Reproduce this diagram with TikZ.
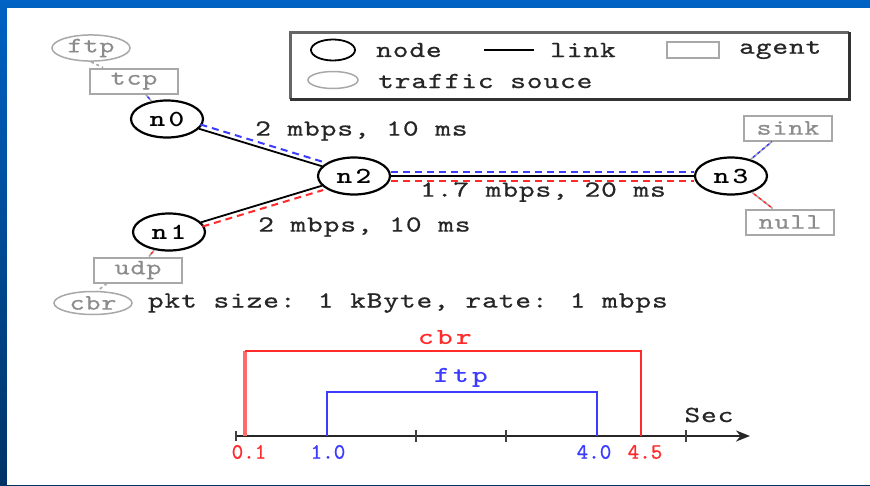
\documentclass[tikz,border=0pt]{standalone}
\usepackage{fontspec}
\newfontfamily\labelfont[FakeStretch=1.3,LetterSpace=4,FakeBold=0.7]{lmmono10-regular.otf}
\newfontfamily\nodefont[FakeStretch=1.3,LetterSpace=14]{lmmonolt10-bold.otf}
\newfontfamily\numfont[FakeBold=0.7]{lmmono10-regular.otf}
\usetikzlibrary{shapes.geometric,positioning,arrows.meta}
\definecolor{slideblue}{HTML}{0062C4}
\definecolor{slidedark}{HTML}{003366}
\definecolor{cbrred}{HTML}{FF2B2B}
\definecolor{ftpblue}{HTML}{3C3CFF}
\definecolor{agentgray}{HTML}{A8A8A8}
\definecolor{agenttext}{HTML}{8C8C8C}

\begin{document}
\begin{tikzpicture}[x=1pt,y=-1pt,
  nsnode/.style={ellipse,draw,line width=2.2pt,minimum width=72pt,minimum height=37pt,inner sep=0pt,font=\nodefont\fontsize{23}{23}\selectfont},
  agentbox/.style={draw=agentgray,line width=2pt,minimum width=88pt,minimum height=25pt,inner sep=0pt,text=agenttext,font=\labelfont\fontsize{22}{22}\selectfont},
  srcnode/.style={ellipse,draw=agentgray,line width=1.5pt,minimum width=78pt,minimum height=23pt,inner sep=0pt,text=agenttext,font=\labelfont\fontsize{22}{22}\selectfont},
  txt/.style={font=\labelfont\fontsize{23}{23}\selectfont,inner sep=0pt,anchor=west,text=black!85},
  numtxt/.style={font=\numfont\fontsize{22}{22}\selectfont,inner sep=0pt},
  link/.style={line width=1.8pt},
  ftpflow/.style={ftpblue,line width=2pt,dash pattern=on 7pt off 5pt},
  cbrflow/.style={cbrred,line width=2pt,dash pattern=on 7pt off 5pt},
  agentdot/.style={agentgray,line width=1.6pt,dash pattern=on 3pt off 3pt},
  ftpdot/.style={ftpblue,line width=1.6pt,dash pattern=on 3pt off 3pt,dash phase=3pt},
  cbrdot/.style={cbrred,line width=1.6pt,dash pattern=on 3pt off 3pt,dash phase=3pt},
  tick/.style={black!75,line width=2.2pt}]
  % slide background
  \shade[top color=slideblue,bottom color=slidedark] (0,0) rectangle (870,485);
  \fill[white] (7,8) rectangle (870,485);
  \useasboundingbox (0,0) rectangle (870,485);

  % legend
  \draw[black!60,line width=3pt] (290,99) -- (290,32) -- (849,32);
  \draw[black!80,line width=3pt] (849,32) -- (849,99) -- (290,99);
  \node[ellipse,draw,line width=1.8pt,minimum width=44pt,minimum height=21pt] (lgnode) at (333,50) {};
  \node[txt] (lgnodet) at (376,50) {node};
  \coordinate (lglinea) at (484,50);
  \coordinate (lglineb) at (534,50);
  \draw[link] (lglinea) -- (lglineb);
  \node[txt] (lglinkt) at (550,50) {link};
  \node[draw=agentgray,line width=2pt,minimum width=52pt,minimum height=16pt] (lgagent) at (693,50) {};
  \node[txt] (lgagentt) at (739,50) {agent};
  \node[ellipse,draw=agentgray,line width=1.5pt,minimum width=50pt,minimum height=17pt] (lgsrc) at (333,80) {};
  \node[txt] (lgsrct) at (378,81) {traffic souce};

  % topology
  \node[nsnode] (n0) at (167,119) {n0};
  \node[nsnode] (n1) at (169,232) {n1};
  \node[nsnode] (n2) at (354,176) {n2};
  \node[nsnode] (n3) at (731,176) {n3};

  \node[agentbox] (tcp) at (134,81) {tcp};
  \node[srcnode] (ftp) at (91,48) {ftp};
  \node[agentbox] (udp) at (138,270) {udp};
  \node[srcnode] (cbr) at (93,303) {cbr};
  \node[agentbox] (sink) at (788,128) {sink};
  \node[agentbox] (null) at (790,222) {null};

  \draw[link] (n0) -- (n2);
  \draw[link] (n1) -- (n2);
  \draw[link] (n2) -- (n3);
  \draw[ftpflow,transform canvas={shift={(1.3pt,4.3pt)}}] (n0) -- (n2);
  \draw[ftpflow,transform canvas={yshift=4.5pt}] (n2) -- (n3);
  \draw[cbrflow,transform canvas={shift={(1.3pt,-4.3pt)}}] (n1) -- (n2);
  \draw[cbrflow,transform canvas={yshift=-4.5pt}] (n2) -- (n3);

  \draw[agentdot] (ftp.south) -- ([xshift=14pt]tcp.north west);
  \draw[agentdot] (tcp) -- (n0);
  \draw[ftpdot] (tcp) -- (n0);
  \draw[agentdot] (n3) -- (sink);
  \draw[ftpdot] (n3) -- (sink);
  \draw[agentdot] (udp) -- (n1);
  \draw[cbrdot] (udp) -- (n1);
  \draw[agentdot] (n3) -- (null);
  \draw[cbrdot] (n3) -- (null);
  \draw[agentdot] ([xshift=14pt]udp.south west) -- (cbr.70);

  \node[txt] (l02) at (255,131) {2 mbps, 10 ms};
  \node[txt] (l12) at (258,227) {2 mbps, 10 ms};
  \node[txt] (l23) at (420,192) {1.7 mbps, 20 ms};
  \node[txt,right=15pt of cbr] (pkt) {pkt size: 1 kByte, rate: 1 mbps};

  % time line
  \coordinate (t0) at (236,436);
  \coordinate (tend) at (750,436);
  \draw[black!85,line width=2pt,-{Stealth[length=14pt,width=11pt]}] (t0) -- (tend);
  \draw[tick,line width=1.5pt] (236,431) -- (236,441);
  \foreach \i in {2,3,5}
    \draw[tick] (236+90*\i,430) -- (236+90*\i,442);
  \coordinate (cbrs) at (245,436);
  \coordinate (cbre) at (641,436);
  \coordinate (ftps) at (327,436);
  \coordinate (ftpe) at (597,436);
  \draw[cbrred!70,line width=4.5pt] (cbrs) -- ++(0,-85);
  \draw[cbrred,line width=2.2pt] (cbrs) ++(0,-85) -| (cbre);
  \draw[ftpblue,line width=2.2pt] (ftps) -- ++(0,-44) -| (ftpe);
  \node[txt,anchor=center,text=cbrred,font=\nodefont\fontsize{23}{23}\selectfont] (cbrlab) at (445,338) {cbr};
  \node[txt,anchor=center,text=ftpblue,font=\nodefont\fontsize{23}{23}\selectfont] (ftplab) at (461,378) {ftp};
  \node[txt,anchor=center] (seclab) at (709,415) {Sec};
  \node[numtxt,text=cbrred] (lab01) at (249,452) {0.1};
  \node[numtxt,text=ftpblue] (lab10) at (328,452) {1.0};
  \node[numtxt,text=ftpblue] (lab40) at (594,452) {4.0};
  \node[numtxt,text=cbrred] (lab45) at (645,452) {4.5};
\end{tikzpicture}
\end{document}
